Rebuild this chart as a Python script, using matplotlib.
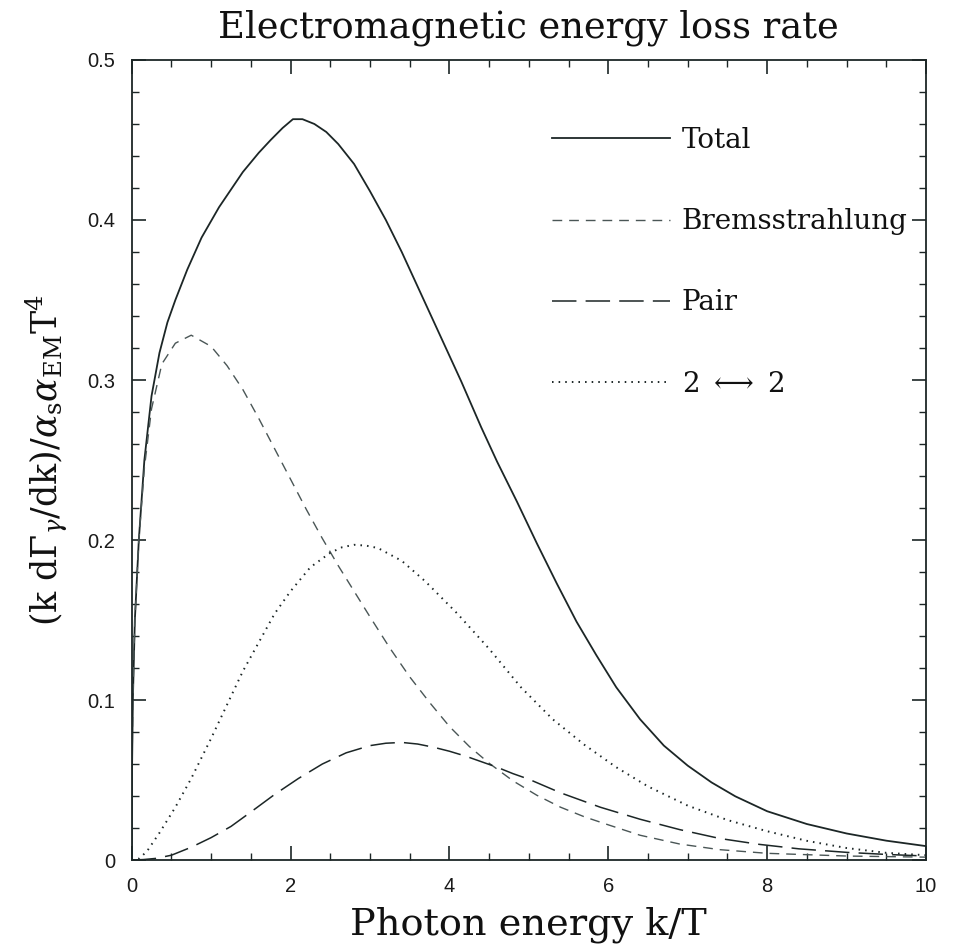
import matplotlib
matplotlib.use("Agg")
import matplotlib.pyplot as plt
from matplotlib.ticker import MultipleLocator, FixedLocator

# ---------------- data ----------------
k_total = [0, 0.003, 0.015, 0.04, 0.09, 0.16, 0.25, 0.35, 0.45, 0.55, 0.7, 0.88, 1.1, 1.25,
           1.4, 1.6, 1.75, 1.9, 2.03, 2.15, 2.3, 2.45, 2.6, 2.8, 3.0, 3.2, 3.4, 3.65, 3.9,
           4.15, 4.4, 4.6, 4.85, 5.1, 5.35, 5.6, 5.85, 6.1, 6.4, 6.7, 7.0, 7.3, 7.6, 8.0,
           8.5, 9.0, 9.5, 10.0]
v_total = [0, 0.05, 0.10, 0.15, 0.20, 0.25, 0.29, 0.317, 0.336, 0.350, 0.369, 0.389, 0.408,
           0.419, 0.430, 0.442, 0.450, 0.4575, 0.4630, 0.4630, 0.4600, 0.4550, 0.4475, 0.4350,
           0.418, 0.400, 0.380, 0.353, 0.326, 0.299, 0.2705, 0.249, 0.224, 0.198, 0.173,
           0.149, 0.128, 0.108, 0.088, 0.0715, 0.0590, 0.0485, 0.0398, 0.0305, 0.0225, 0.0166,
           0.0121, 0.0087]

k_brems = [0, 0.003, 0.015, 0.04, 0.09, 0.16, 0.25, 0.38, 0.55, 0.75, 1.0, 1.2, 1.4, 1.6,
           1.8, 2.0, 2.2, 2.4, 2.6, 2.8, 3.0, 3.25, 3.5, 3.75, 4.0, 4.25, 4.5, 4.8, 5.1,
           5.4, 5.7, 6.0, 6.4, 6.9, 7.4, 8.0, 9.0, 10.0]
v_brems = [0, 0.05, 0.10, 0.15, 0.20, 0.245, 0.282, 0.310, 0.323, 0.328, 0.321, 0.309,
           0.294, 0.276, 0.257, 0.238, 0.219, 0.201, 0.184, 0.168, 0.152, 0.1325, 0.1145,
           0.0985, 0.0835, 0.071, 0.0605, 0.0495, 0.0405, 0.033, 0.027, 0.022, 0.0155,
           0.0100, 0.0065, 0.0042, 0.0025, 0.0018]

k_pair = [0, 0.15, 0.3, 0.5, 0.75, 1.0, 1.25, 1.5, 1.8, 2.1, 2.4, 2.7, 3.0, 3.2, 3.4, 3.6,
          3.8, 4.0, 4.2, 4.4, 4.6, 4.8, 5.0, 5.4, 5.9, 6.4, 6.9, 7.4, 7.9, 8.4, 9.0, 9.5, 10.0]
v_pair = [0, 0.0003, 0.001, 0.003, 0.008, 0.014, 0.021, 0.030, 0.041, 0.051, 0.060, 0.067,
          0.0715, 0.073, 0.0735, 0.0725, 0.0705, 0.068, 0.065, 0.0615, 0.058, 0.054, 0.0505,
          0.042, 0.033, 0.0255, 0.019, 0.0135, 0.0098, 0.0070, 0.0048, 0.0035, 0.0025]

k_22 = [0, 0.1, 0.2, 0.35, 0.55, 0.75, 1.0, 1.2, 1.4, 1.6, 1.8, 2.0, 2.25, 2.5, 2.65, 2.8,
        2.95, 3.1, 3.4, 3.7, 4.1, 4.5, 4.9, 5.3, 5.7, 6.1, 6.5, 7.0, 7.5, 8.0, 8.5, 9.0,
        9.5, 10.0]
v_22 = [0, 0.001, 0.006, 0.017, 0.033, 0.051, 0.076, 0.097, 0.118, 0.136, 0.154, 0.168,
        0.183, 0.192, 0.1955, 0.197, 0.1965, 0.195, 0.187, 0.174, 0.154, 0.132, 0.108,
        0.088, 0.072, 0.058, 0.046, 0.034, 0.025, 0.018, 0.012, 0.0075, 0.0045, 0.003]

labels = ["Total", "Bremsstrahlung", "Pair", r"2 $\longleftrightarrow$ 2"]
x_ticks = [0, 2, 4, 6, 8, 10]
y_ticks = [0, 0.1, 0.2, 0.3, 0.4, 0.5]
y_tick_labels = ["0", "0.1", "0.2", "0.3", "0.4", "0.5"]

title = "Electromagnetic energy loss rate"
xlabel = "Photon energy k/T"
ylabel = r"$(\mathrm{k\ d}\Gamma_\gamma\mathrm{/dk})/\alpha_\mathrm{s}\alpha_\mathrm{EM}\mathrm{T}^4$"

# ---------------- figure ----------------
plt.rcParams["mathtext.fontset"] = "dejavuserif"
fig = plt.figure(figsize=(9.59, 9.52), dpi=100)
ax = fig.add_axes([0.1373, 0.0966, 0.8283, 0.8404])

ink = "#1c2626"
ax.plot(k_total, v_total, color=ink, lw=1.3, ls="-", label=labels[0])
ax.plot(k_brems, v_brems, color="#4a5656", lw=1.0, dashes=(7, 5), label=labels[1])
ax.plot(k_pair, v_pair, color=ink, lw=1.1, dashes=(16, 6), label=labels[2])
ax.plot(k_22, v_22, color=ink, lw=1.4, dashes=(0.8, 2.6), label=labels[3])

ax.set_xlim(0, 10)
ax.set_ylim(0, 0.5)
ax.xaxis.set_major_locator(FixedLocator(x_ticks))
ax.xaxis.set_minor_locator(MultipleLocator(0.5))
ax.yaxis.set_major_locator(FixedLocator(y_ticks))
ax.yaxis.set_minor_locator(MultipleLocator(0.02))
ax.set_xticklabels([str(t) for t in x_ticks])
ax.set_yticklabels(y_tick_labels)

ax.tick_params(which="both", direction="in", top=True, right=True, color=ink)
ax.tick_params(which="major", length=10, width=1.2, pad=12, labelsize=14.5)
ax.tick_params(which="minor", length=5, width=1.0)
for lab in ax.get_xticklabels() + ax.get_yticklabels():
    lab.set_family("Liberation Sans")
    lab.set_color("#1a1a1a")
for sp in ax.spines.values():
    sp.set_linewidth(1.3)
    sp.set_color(ink)

ax.set_title(title, family="DejaVu Serif", fontsize=26.5, pad=16, color="#111")
ax.set_xlabel(xlabel, family="DejaVu Serif", fontsize=27.5, labelpad=8, color="#111")
ax.set_ylabel(ylabel, fontsize=25, labelpad=12, color="#111")

leg = ax.legend(loc="upper left", bbox_to_anchor=(0.515, 0.93), frameon=False,
                prop={"family": "DejaVu Serif", "size": 20}, handlelength=4.25,
                handletextpad=0.43, labelspacing=1.95, borderaxespad=0)
for t in leg.get_texts():
    t.set_color("#111")

fig.savefig("out.png", dpi=100)
